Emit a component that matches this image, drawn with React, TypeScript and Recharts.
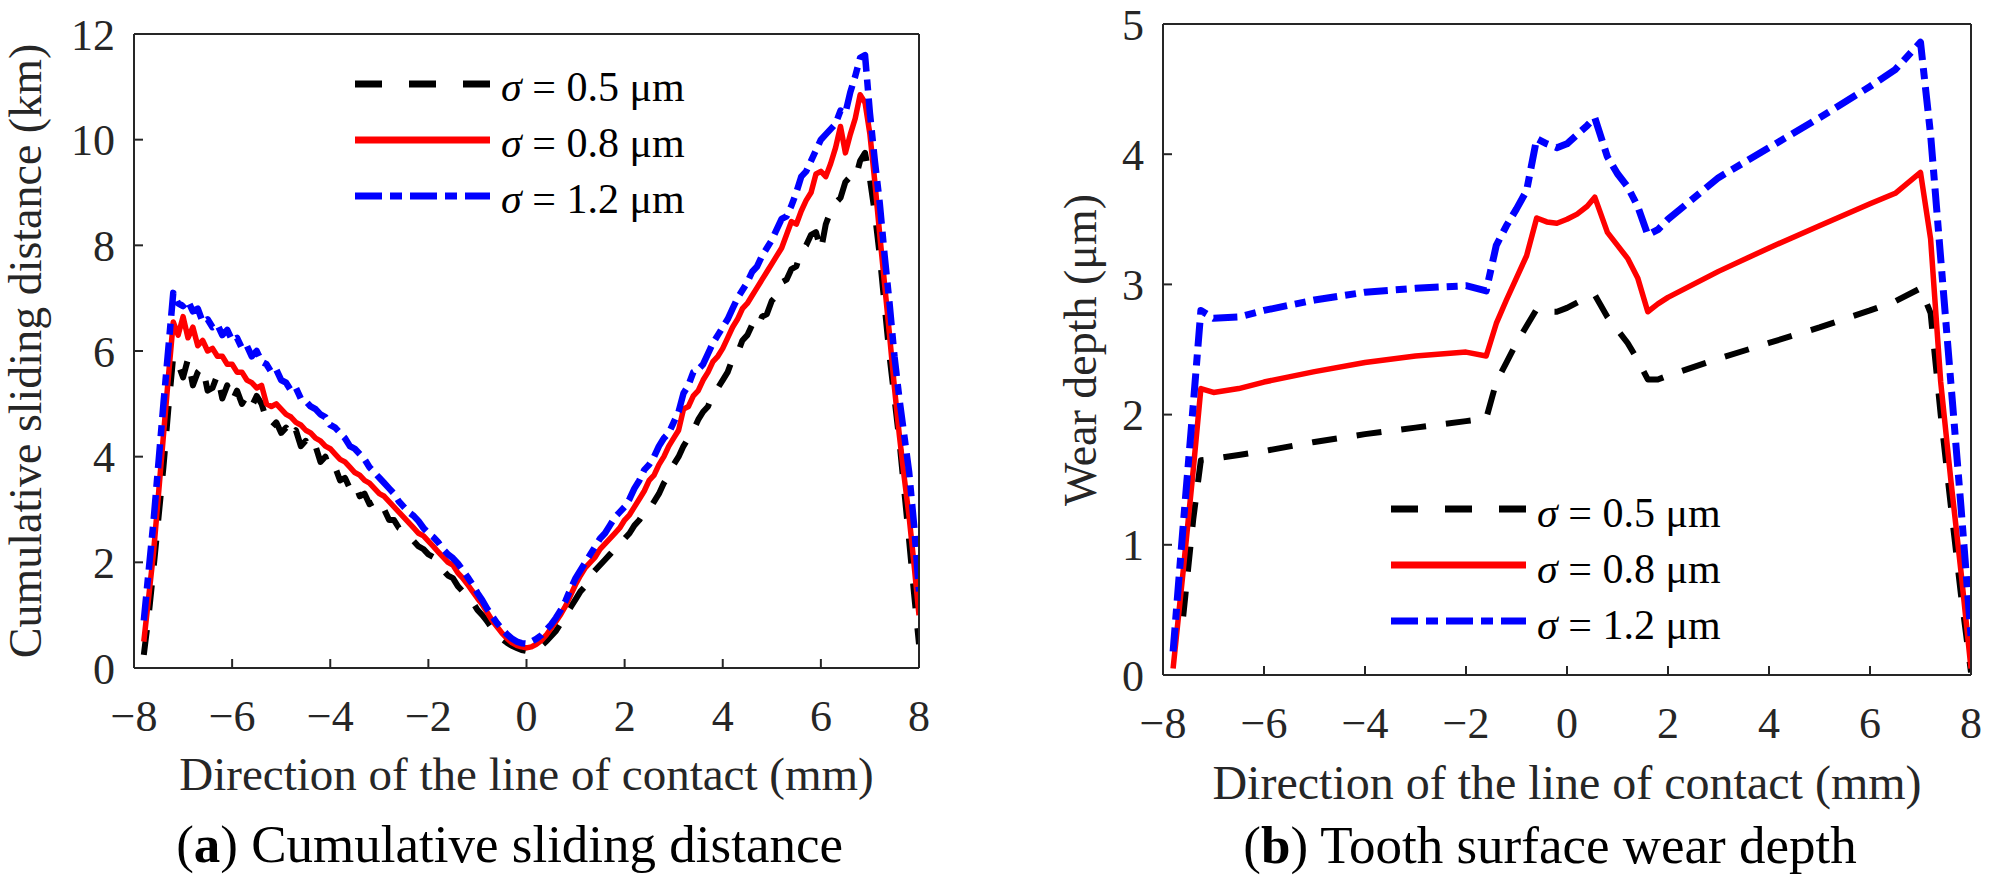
import { Legend, Line, LineChart, XAxis, YAxis } from "recharts";

const FONT = '"Liberation Serif", "Times New Roman", serif';
const AXIS = "#262626";

// (a) cumulative sliding distance (km) along the line of contact (mm)
const slideX = [
  -7.8, -7.7, -7.6, -7.5, -7.4, -7.3, -7.2, -7.1, -7.0, -6.9,
  -6.8, -6.7, -6.6, -6.5, -6.4, -6.3, -6.2, -6.1, -6.0, -5.9,
  -5.8, -5.7, -5.6, -5.5, -5.4, -5.3, -5.2, -5.1, -5.0, -4.9,
  -4.8, -4.7, -4.6, -4.5, -4.4, -4.3, -4.2, -4.1, -4.0, -3.9,
  -3.8, -3.7, -3.6, -3.5, -3.4, -3.3, -3.2, -3.1, -3.0, -2.9,
  -2.8, -2.7, -2.6, -2.5, -2.4, -2.3, -2.2, -2.1, -2.0, -1.9,
  -1.8, -1.7, -1.6, -1.5, -1.4, -1.3, -1.2, -1.1, -1.0, -0.9,
  -0.8, -0.7, -0.6, -0.5, -0.4, -0.3, -0.2, -0.1, 0.0, 0.1,
  0.2, 0.3, 0.4, 0.5, 0.6, 0.7, 0.8, 0.9, 1.0, 1.1,
  1.2, 1.3, 1.4, 1.5, 1.6, 1.7, 1.8, 1.9, 2.0, 2.1,
  2.2, 2.3, 2.4, 2.5, 2.6, 2.7, 2.8, 2.9, 3.0, 3.1,
  3.2, 3.3, 3.4, 3.5, 3.6, 3.7, 3.8, 3.9, 4.0, 4.1,
  4.2, 4.3, 4.4, 4.5, 4.6, 4.7, 4.8, 4.9, 5.0, 5.1,
  5.2, 5.3, 5.4, 5.5, 5.6, 5.7, 5.8, 5.9, 6.0, 6.1,
  6.2, 6.3, 6.4, 6.5, 6.6, 6.7, 6.8, 6.9, 7.0, 7.1,
  7.2, 7.3, 7.4, 7.5, 7.6, 7.7, 7.8, 7.9, 8.0,
];
const slideS05 = [
  0.25, 1.0, 1.9, 2.85, 3.8, 4.9, 5.9, 5.75, 5.5, 5.85,
  5.35, 5.6, 5.7, 5.25, 5.3, 5.55, 5.1, 5.35, 5.05, 5.25,
  5.0, 5.15, 4.95, 5.15, 5.0, 4.7, 4.55, 4.65, 4.45, 4.55,
  4.35, 4.5, 4.2, 4.3, 4.1, 4.2, 3.9, 4.0, 3.75, 3.8,
  3.55, 3.6, 3.4, 3.5, 3.25, 3.3, 3.1, 3.15, 2.95, 3.0,
  2.8, 2.8, 2.65, 2.6, 2.5, 2.4, 2.3, 2.25, 2.15, 2.1,
  1.95, 1.85, 1.75, 1.7, 1.55, 1.45, 1.35, 1.25, 1.1, 1.0,
  0.88, 0.75, 0.65, 0.55, 0.48, 0.42, 0.38, 0.34, 0.32, 0.3,
  0.36, 0.42, 0.5, 0.6, 0.7, 0.85, 1.0, 1.15, 1.3, 1.45,
  1.55, 1.75, 1.85, 1.95, 2.05, 2.15, 2.25, 2.35, 2.45, 2.55,
  2.7, 2.8, 2.95, 3.0, 3.15, 3.3, 3.5, 3.65, 3.85, 4.0,
  4.2, 4.35, 4.5, 4.7, 4.85, 4.95, 5.2, 5.3, 5.45, 5.6,
  5.85, 5.95, 6.2, 6.3, 6.5, 6.4, 6.65, 6.7, 6.95, 7.05,
  7.3, 7.35, 7.55, 7.6, 7.9, 8.0, 8.2, 8.25, 7.9, 8.4,
  8.65, 8.8, 8.9, 9.2, 9.3, 9.25, 9.6, 9.75, 9.25, 8.6,
  7.8, 6.85, 5.9, 5.1, 4.3, 3.35, 2.4, 1.4, 0.45,
];
const slideS08 = [
  0.5, 1.35, 2.2, 3.3, 4.4, 5.5, 6.55, 6.3, 6.65, 6.25,
  6.45, 6.1, 6.2, 6.0, 6.05, 5.9, 5.9, 5.75, 5.75, 5.6,
  5.6, 5.45, 5.4, 5.3, 5.35, 5.0, 4.95, 5.0, 4.9, 4.8,
  4.75, 4.65, 4.6, 4.5, 4.45, 4.35, 4.3, 4.2, 4.15, 4.05,
  3.95, 3.9, 3.8, 3.7, 3.65, 3.55, 3.5, 3.4, 3.3, 3.25,
  3.15, 3.05, 2.95, 2.85, 2.75, 2.65, 2.55, 2.5, 2.4, 2.3,
  2.2, 2.1, 2.0, 1.95, 1.8, 1.7, 1.58, 1.45, 1.32, 1.2,
  1.05, 0.9, 0.78, 0.66, 0.56, 0.48, 0.43, 0.4, 0.38, 0.4,
  0.45, 0.52, 0.62, 0.75, 0.88, 1.02, 1.18, 1.38, 1.58, 1.75,
  1.9, 2.0, 2.1, 2.25, 2.35, 2.45, 2.55, 2.65, 2.8, 2.9,
  3.05, 3.2, 3.35, 3.55, 3.65, 3.85, 4.0, 4.2, 4.35, 4.5,
  4.9, 4.95, 5.15, 5.25, 5.45, 5.6, 5.8, 5.9, 6.05, 6.25,
  6.45, 6.6, 6.8, 6.9, 7.05, 7.2, 7.35, 7.5, 7.65, 7.8,
  7.95, 8.2, 8.45, 8.4, 8.65, 8.85, 9.0, 9.35, 9.4, 9.3,
  9.55, 9.85, 10.25, 9.75, 10.1, 10.4, 10.85, 10.7, 10.1, 9.2,
  8.2, 7.25, 6.3, 5.3, 4.4, 3.6, 2.85, 1.95, 1.0,
];
const slideS12 = [
  0.9, 1.85, 2.8, 3.9, 5.0, 6.05, 7.1, 6.9, 6.85, 6.95,
  6.75, 6.8, 6.55, 6.6, 6.45, 6.5, 6.3, 6.4, 6.2, 6.25,
  6.05, 6.1, 5.9, 6.0, 5.8, 5.75, 5.6, 5.65, 5.45, 5.4,
  5.25, 5.3, 5.1, 5.05, 4.95, 4.9, 4.8, 4.75, 4.6, 4.55,
  4.45, 4.35, 4.2, 4.15, 4.05, 3.95, 3.8, 3.7, 3.6, 3.5,
  3.4, 3.3, 3.15, 3.05, 2.95, 2.88, 2.78, 2.65, 2.55, 2.48,
  2.38, 2.25, 2.15, 2.08, 1.98, 1.85, 1.72, 1.58, 1.42, 1.28,
  1.12, 0.98, 0.85, 0.74, 0.64, 0.56, 0.5, 0.47, 0.46, 0.5,
  0.55, 0.62, 0.72, 0.82, 0.95, 1.1, 1.28, 1.5, 1.7, 1.85,
  2.0, 2.15, 2.3, 2.45, 2.55, 2.7, 2.85, 2.95, 3.05, 3.2,
  3.4, 3.55, 3.75, 3.85, 4.0, 4.2, 4.35, 4.45, 4.65, 4.85,
  5.2, 5.35, 5.6, 5.65, 5.75, 5.95, 6.15, 6.3, 6.45, 6.6,
  6.8, 7.0, 7.15, 7.3, 7.5, 7.6, 7.8, 7.95, 8.1, 8.3,
  8.5, 8.55, 8.75, 9.0, 9.3, 9.4, 9.6, 9.8, 10.0, 10.1,
  10.2, 10.3, 10.55, 10.5, 10.9, 11.2, 11.55, 11.6, 10.5, 9.6,
  8.8, 7.8, 6.9, 5.9, 5.1, 4.4, 3.7, 2.7, 1.45,
];

// (b) tooth surface wear depth (µm)
const wearX = [
  -7.8, -7.6, -7.4, -7.25, -7.0, -6.5, -6.0, -5.0, -4.0, -3.0, -2.0, -1.6, -1.4, -1.2, -1.0, -0.8,
  -0.6, -0.4, -0.2, 0.0, 0.2, 0.4, 0.55, 0.8, 1.0, 1.2, 1.4, 1.6, 1.8, 2.0, 3.0, 4.0, 5.0, 6.0, 6.5,
  7.0, 7.2, 7.4, 7.6, 7.8, 8.0,
];
const wearS05 = [
  null, 0.45, 1.2, 1.65, 1.66, 1.69, 1.72, 1.79, 1.85, 1.9, 1.95, 1.97, 2.25, 2.4, 2.55, 2.68,
  2.81, 2.79, 2.79, 2.82, 2.86, 2.9, 2.92, 2.75, 2.65, 2.55, 2.42, 2.27, 2.27, 2.3, 2.43, 2.55, 2.67, 2.8, 2.87,
  2.97, 2.78, 2.0, 1.3, 0.62, 0.02,
];
const wearS08 = [
  0.05, 0.8, 1.58, 2.2, 2.17, 2.2, 2.25, 2.33, 2.4, 2.45, 2.48, 2.45, 2.7, 2.88, 3.05, 3.22,
  3.51, 3.48, 3.47, 3.5, 3.54, 3.6, 3.67, 3.4, 3.3, 3.2, 3.05, 2.79, 2.85, 2.9, 3.1, 3.28, 3.45, 3.62, 3.7,
  3.86, 3.35, 2.25, 1.5, 0.8, 0.05,
];
const wearS12 = [
  0.18, 1.15, 2.08, 2.8, 2.74, 2.75, 2.8, 2.88, 2.94, 2.97, 2.99, 2.95, 3.3, 3.45, 3.58, 3.72,
  4.12, 4.08, 4.05, 4.08, 4.15, 4.22, 4.28, 3.98, 3.85, 3.75, 3.6, 3.38, 3.42, 3.5, 3.82, 4.05, 4.28, 4.52, 4.65,
  4.86, 4.15, 3.2, 2.25, 1.3, 0.3,
];

const xTicks = [-8, -6, -4, -2, 0, 2, 4, 6, 8];
const slideTicks = [0, 2, 4, 6, 8, 10, 12];
const wearTicks = [0, 1, 2, 3, 4, 5];
const sigmaValues = ["0.5", "0.8", "1.2"];

const series = [
  { key: "s05", color: "#000000", dash: "25 20", legendDash: "27 27" },
  { key: "s08", color: "#ff0000", dash: undefined, legendDash: undefined },
  { key: "s12", color: "#0000ff", dash: "24 8 11 8", legendDash: "27 8 12 8" },
];

const slideData = slideX.map((x, i) => ({
  x,
  s05: slideS05[i],
  s08: slideS08[i],
  s12: slideS12[i],
}));

const wearData = wearX.map((x, i) => ({
  x,
  s05: wearS05[i],
  s08: wearS08[i],
  s12: wearS12[i],
}));

const fmtTick = (v: number) => (v < 0 ? `\u2212${Math.abs(v)}` : `${v}`);

function SigmaLegend({ textDy }: { textDy: number }) {
  return (
    <svg width={420} height={180} style={{ display: "block", overflow: "visible" }}>
      {series.map((s, i) => (
        <g key={s.key} transform={`translate(0, ${20 + i * 56})`}>
          <line
            x1={0}
            x2={135}
            y1={0}
            y2={0}
            stroke={s.color}
            strokeWidth={7}
            strokeDasharray={s.legendDash}
          />
          <text x={146} y={textDy} fontFamily={FONT} fontSize={42} fill="#000">
            <tspan fontStyle="italic">σ</tspan>
            {` = ${sigmaValues[i]} μm`}
          </text>
        </g>
      ))}
    </svg>
  );
}

type PanelProps = {
  data: { x: number; s05: number | null; s08: number; s12: number }[];
  width: number;
  height: number;
  margin: { top: number; right: number; bottom: number; left: number };
  yMax: number;
  yTicks: number[];
  widths: number[];
  legendLeft: number;
  legendTop: number;
  legendDy: number;
};

function Panel(props: PanelProps) {
  const { data, width, height, margin, yMax, yTicks, widths } = props;
  const tickStyle = { fontSize: 44, fontFamily: FONT, fill: AXIS };
  const lineStyle = { stroke: AXIS, strokeWidth: 2 };
  return (
    <LineChart width={width} height={height} data={data} margin={margin}>
      <XAxis
        dataKey="x"
        type="number"
        domain={[-8, 8]}
        ticks={xTicks}
        interval={0}
        allowDataOverflow
        height={1}
        tickSize={-9}
        tickMargin={41}
        tickFormatter={fmtTick}
        tick={tickStyle}
        axisLine={lineStyle}
        tickLine={lineStyle}
      />
      <XAxis
        xAxisId="top"
        orientation="top"
        type="number"
        domain={[-8, 8]}
        ticks={xTicks}
        interval={0}
        allowDataOverflow
        height={1}
        tickSize={-9}
        tick={false}
        axisLine={lineStyle}
        tickLine={lineStyle}
      />
      <YAxis
        type="number"
        domain={[0, yMax]}
        ticks={yTicks}
        interval={0}
        allowDataOverflow
        width={1}
        tickSize={-9}
        tickMargin={28}
        tick={tickStyle}
        axisLine={lineStyle}
        tickLine={lineStyle}
      />
      <YAxis
        yAxisId="right"
        orientation="right"
        type="number"
        domain={[0, yMax]}
        ticks={yTicks}
        interval={0}
        allowDataOverflow
        width={1}
        tickSize={-9}
        tick={false}
        axisLine={lineStyle}
        tickLine={lineStyle}
      />
      <Legend
        layout="vertical"
        align="center"
        verticalAlign="middle"
        wrapperStyle={{ left: props.legendLeft, top: props.legendTop, width: 420 }}
        content={() => <SigmaLegend textDy={props.legendDy} />}
      />
      {series.map((s, i) => (
        <Line
          key={s.key}
          type="linear"
          dataKey={s.key}
          stroke={s.color}
          strokeWidth={widths[i]}
          strokeDasharray={s.dash}
          strokeLinejoin="round"
          dot={false}
          activeDot={false}
          isAnimationActive={false}
        />
      ))}
    </LineChart>
  );
}

export default function App() {
  return (
    <div
      style={{
        position: "absolute",
        left: 0,
        top: 0,
        width: 1990,
        height: 886,
        background: "#fff",
        overflow: "hidden",
      }}
    >
      <div style={{ position: "absolute", left: 0, top: 0 }}>
        <Panel
          data={slideData}
          width={1000}
          height={886}
          margin={{ top: 33, right: 80, bottom: 217, left: 133 }}
          yMax={12}
          yTicks={slideTicks}
          widths={[6, 5.5, 6.5]}
          legendLeft={355}
          legendTop={64}
          legendDy={17}
        />
      </div>
      <div style={{ position: "absolute", left: 1000, top: 0 }}>
        <Panel
          data={wearData}
          width={990}
          height={886}
          margin={{ top: 23, right: 18, bottom: 210, left: 162 }}
          yMax={5}
          yTicks={wearTicks}
          widths={[6, 5.5, 7]}
          legendLeft={391}
          legendTop={489}
          legendDy={18}
        />
      </div>
      <svg
        width={1990}
        height={886}
        style={{ position: "absolute", left: 0, top: 0, pointerEvents: "none" }}
        fontFamily={FONT}
      >
        <text transform="translate(41, 351) rotate(-90)" textAnchor="middle" fontSize={46} fill={AXIS}>
          Cumulative sliding distance (km)
        </text>
        <text x={526.5} y={790} textAnchor="middle" fontSize={47} fill={AXIS}>
          Direction of the line of contact (mm)
        </text>
        <text x={509.6} y={862} textAnchor="middle" fontSize={53} fill="#000">
          (<tspan fontWeight="bold">a</tspan>) Cumulative sliding distance
        </text>
        <text transform="translate(1096, 350) rotate(-90)" textAnchor="middle" fontSize={46} fill={AXIS}>
          Wear depth (μm)
        </text>
        <text x={1567} y={799} textAnchor="middle" fontSize={48} fill={AXIS}>
          Direction of the line of contact (mm)
        </text>
        <text x={1550} y={863} textAnchor="middle" fontSize={53} fill="#000">
          (<tspan fontWeight="bold">b</tspan>) Tooth surface wear depth
        </text>
      </svg>
    </div>
  );
}
